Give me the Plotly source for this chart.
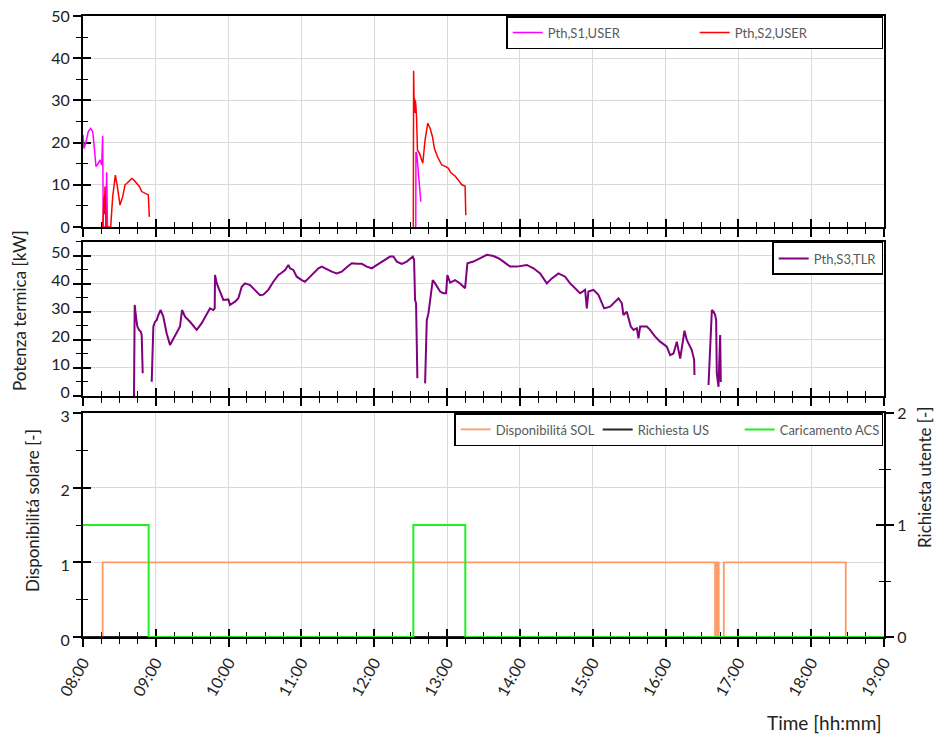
import plotly.graph_objects as go

DAY = "2021-06-21 "

# ---- Panel 1: Pth,S1,USER (magenta) and Pth,S2,USER (red) [kW]
S1_T = ["08:00:00", "08:00:50", "08:02:28", "08:04:22", "08:06:18", "08:08:00", "08:09:00",
        "08:10:43", "08:12:37", "08:14:00", "08:15:25", "08:16:12", "08:16:44", "08:18:40",
        "08:19:30", "08:20:10", None,
        "12:34:12", "12:34:20", "12:35:00", "12:36:22", "12:37:12", "12:38:20"]
S1_V = [21.8, 18.6, 20.2, 22.6, 23.4, 22.6, 19.8, 14.3, 15.1, 15.9, 14.7, 21.6, 0, 0,
        13.0, 0, None,
        0, 17.8, 17.5, 12.7, 8.8, 6.0]

S2_T = ["08:16:12", "08:17:17", "08:17:40", "08:18:07", "08:18:58", "08:21:10", "08:22:48",
        "08:24:28", "08:26:40", "08:28:19", "08:30:30", "08:32:42", "08:34:37", "08:36:00",
        "08:37:22", "08:40:08", "08:42:00", "08:44:14", "08:46:25", "08:48:22", "08:51:07",
        "08:53:49", "08:54:40", None,
        "12:32:10", "12:32:25", "12:32:50", "12:33:10", "12:33:30", "12:33:50", "12:34:20",
        "12:34:50", "12:35:34", "12:37:12", "12:39:58", "12:41:52", "12:44:05", "12:46:00",
        "12:47:56", "12:49:34", "12:52:00", "12:55:37", "12:58:55", "13:01:05", "13:03:00",
        "13:06:36", "13:09:19", "13:12:05", "13:14:50", "13:15:25"]
S2_V = [0, 7.2, 3.0, 9.6, 0, 0, 0, 7.2, 12.3, 9.6, 5.2, 7.2, 10.0, 10.3, 10.7, 11.5, 11.1,
        10.3, 9.6, 8.4, 8.0, 7.6, 2.4, None,
        0, 37.0, 29.0, 30.5, 27.0, 30.0, 28.5, 26.0, 18.2, 17.5, 15.1, 20.6, 24.6, 23.4,
        21.4, 18.6, 16.7, 14.7, 14.3, 13.9, 12.9, 12.1, 11.1, 10.0, 9.7, 2.8]

# ---- Panel 2: Pth,S3,TLR (purple) [kW]
S3_T = ["08:42:02", "08:42:36", "08:43:41", "08:44:46", "08:46:09", "08:47:32", "08:48:22",
        "08:49:12", None,
        "08:56:37", "08:57:58", "08:59:20", "09:00:43", "09:02:05", "09:04:00", "09:06:12",
        "09:08:55", "09:11:42", "09:14:28", "09:17:13", "09:19:56", "09:21:36", "09:24:04",
        "09:28:11", "09:33:42", "09:37:48", "09:41:56", "09:44:40", "09:47:24", "09:48:32",
        "09:48:47", "09:50:10", "09:52:55", "09:55:38", "09:59:45", "10:01:09", "10:05:16",
        "10:08:00", "10:10:48", "10:13:30", "10:17:38", "10:20:20", "10:25:51", "10:28:37",
        "10:32:42", "10:36:50", "10:40:59", "10:43:44", "10:46:30", "10:49:12", "10:50:35",
        "10:53:20", "10:56:06", "11:00:14", "11:02:56", "11:05:42", "11:09:50", "11:13:59",
        "11:16:44", "11:20:49", "11:24:58", "11:29:06", "11:33:11", "11:37:19", "11:41:27",
        "11:45:36", "11:49:41", "11:53:49", "11:57:58", "12:00:40", "12:04:48", "12:08:53",
        "12:13:00", "12:15:47", "12:18:32", "12:22:41", "12:26:46", "12:31:44", "12:32:49",
        "12:33:36", "12:34:26", "12:35:31", None,
        "12:41:53", "12:43:16", "12:44:38", "12:46:00", "12:48:11", "12:50:06", "12:54:14",
        "12:56:56", "12:59:10", "13:00:14", "13:02:28", "13:06:35", "13:10:43", "13:14:50",
        "13:16:45", "13:21:43", "13:27:12", "13:32:42", "13:38:11", "13:42:18", "13:46:26",
        "13:51:54", "13:57:24", "14:05:42", "14:11:11", "14:16:40", "14:22:10", "14:26:17",
        "14:31:45", "14:37:15", "14:41:22", "14:45:30", "14:49:37", "14:53:45", "14:55:07",
        "14:56:28", "15:00:36", "15:04:41", "15:09:24", "15:14:21", "15:18:29", "15:21:14",
        "15:24:00", "15:25:20", "15:28:05", "15:31:22", "15:33:36", "15:36:22", "15:37:41",
        "15:39:05", "15:44:35", "15:47:17", "15:51:25", "15:55:33", "16:01:04", "16:03:47",
        "16:06:32", "16:09:18", "16:12:04", "16:15:37", "16:17:31", "16:20:16", "16:21:38",
        "16:23:33", "16:23:50", None,
        "16:35:24", "16:38:10", "16:39:32", "16:40:52", "16:41:42", "16:42:14", "16:43:37",
        "16:45:00", "16:45:32"]
S3_V = [0, 32.5, 28.3, 24.8, 23.6, 23.0, 21.8, 8.1, None,
        5.1, 24.8, 26.5, 27.1, 28.9, 30.7, 28.3, 22.4, 18.2, 20.6, 23.0, 24.8, 30.7, 28.3,
        26.5, 23.6, 26.0, 29.5, 31.3, 30.7, 31.3, 43.2, 40.3, 37.3, 34.3, 34.5, 32.5, 33.7,
        34.9, 39.0, 40.2, 39.6, 38.5, 36.0, 36.2, 37.9, 40.8, 43.2, 44.0, 45.0, 46.8, 45.6,
        45.0, 42.6, 41.4, 40.8, 42.0, 43.8, 45.6, 46.2, 45.2, 44.4, 43.8, 44.4, 46.0, 47.4,
        47.2, 47.2, 46.2, 45.6, 46.4, 47.6, 48.6, 49.8, 49.8, 48.0, 47.2, 48.0, 49.8, 48.6,
        34.3, 33.1, 6.3, None,
        4.5, 27.1, 29.5, 34.9, 41.4, 40.2, 37.3, 36.7, 36.7, 43.2, 40.5, 41.4, 40.2, 38.5,
        47.4, 48.0, 49.2, 50.4, 50.0, 49.2, 48.0, 46.2, 46.2, 46.8, 45.6, 43.8, 40.2, 42.0,
        43.8, 42.6, 40.2, 38.5, 36.7, 37.9, 31.3, 37.3, 37.9, 36.1, 31.3, 31.9, 33.7, 34.9,
        33.1, 28.9, 30.1, 24.8, 23.6, 24.2, 20.6, 24.8, 24.8, 23.6, 21.2, 19.4, 17.6, 14.6,
        15.2, 19.4, 13.4, 23.3, 20.0, 17.6, 16.4, 12.9, 7.5, None,
        3.9, 30.7, 30.1, 28.9, 27.1, 8.1, 3.3, 21.8, 5.0]

# ---- Panel 3: signals [-]
SOL_T = ["08:00:00", "08:16:12", "16:40:48", "16:42:22", "16:43:48", "16:48:00", "18:28:30", "19:00:00"]
SOL_V = [0, 1, 0, 1, 0, 1, 0, 0]
US_T = ["08:00:00", "19:00:00"]
US_V = [0, 0]
ACS_T = ["08:00:00", "08:54:07", "12:32:13", "13:15:00", "19:00:00"]
ACS_V = [1, 0, 1, 0, 0]

X_RANGE = ["08:00", "19:00"]


def tx(ts):
    return [None if t is None else DAY + t for t in ts]


FONT = "Lato, 'Open Sans', sans-serif"
GRID = "#d9d9d9"
TC = "#222"

fig = go.Figure()
fig.add_trace(go.Scatter(x=tx(S1_T), y=S1_V, mode="lines", name="Pth,S1,USER",
                         line=dict(color="#FF00FF", width=1.5), xaxis="x", yaxis="y",
                         legend="legend"))
fig.add_trace(go.Scatter(x=tx(S2_T), y=S2_V, mode="lines", name="Pth,S2,USER",
                         line=dict(color="#FF0000", width=1.5), xaxis="x", yaxis="y",
                         legend="legend"))
fig.add_trace(go.Scatter(x=tx(S3_T), y=S3_V, mode="lines", name="Pth,S3,TLR",
                         line=dict(color="#800080", width=2), xaxis="x2", yaxis="y2",
                         legend="legend2"))
fig.add_trace(go.Scatter(x=tx(US_T), y=US_V, mode="lines", name="Richiesta US",
                         line=dict(color="#262626", width=2), xaxis="x3", yaxis="y4",
                         legend="legend3", legendrank=2))
fig.add_trace(go.Scatter(x=tx(SOL_T), y=SOL_V, mode="lines", name="Disponibilitá SOL",
                         line=dict(color="#FF9966", width=1.8, shape="hv"), xaxis="x3", yaxis="y3",
                         legend="legend3", legendrank=1))
fig.add_trace(go.Scatter(x=tx(ACS_T), y=ACS_V, mode="lines", name="Caricamento ACS",
                         line=dict(color="#22EE22", width=2, shape="hv"), xaxis="x3", yaxis="y4",
                         legend="legend3", legendrank=3))

# empty helper traces so that the inside-tick overlay axes are drawn (ticks cross the axis lines)
for xa, ya in [("x4", "y"), ("x5", "y2"), ("x6", "y3"), ("x", "y5"), ("x2", "y6"),
               ("x3", "y7"), ("x3", "y8")]:
    fig.add_trace(go.Scatter(x=[], y=[], mode="lines", xaxis=xa, yaxis=ya,
                             showlegend=False, hoverinfo="skip"))

xr = [DAY + X_RANGE[0], DAY + X_RANGE[1]]
xcommon = dict(type="date", range=xr, dtick=3600000, tickformat="%H:%M", automargin=False,
               showgrid=True, gridcolor=GRID, gridwidth=1, layer="below traces",
               showline=True, linecolor="black", linewidth=2, mirror=True,
               ticks="outside", ticklen=8, tickwidth=1.5, tickcolor="black",
               minor=dict(dtick=900000, ticks="outside", ticklen=5, tickwidth=1.3,
                          tickcolor="black", showgrid=False),
               zeroline=False)
xin = dict(type="date", range=xr, dtick=3600000, showgrid=False, showline=False,
           showticklabels=False, zeroline=False, automargin=False, layer="below traces",
           ticks="inside", ticklen=8, tickwidth=1.5, tickcolor="black",
           minor=dict(dtick=900000, ticks="inside", ticklen=5, tickwidth=1.3,
                      tickcolor="black", showgrid=False))
ycommon = dict(showgrid=True, gridcolor=GRID, gridwidth=1, automargin=False,
               showline=True, linecolor="black", linewidth=2, layer="below traces",
               ticks="outside", ticklen=8, tickwidth=1.5, tickcolor="black",
               tickfont=dict(family=FONT, size=16, color=TC),
               zeroline=False)


def yin(rng, dt, mdt, side="left"):
    return dict(range=rng, dtick=dt, tick0=0, showgrid=False, showline=False,
                showticklabels=False, zeroline=False, side=side, automargin=False,
                layer="below traces",
                ticks="inside", ticklen=8, tickwidth=1.5, tickcolor="black",
                minor=dict(dtick=mdt, ticks="inside", ticklen=5, tickwidth=1.3,
                           tickcolor="black", showgrid=False))


def ymin(dt):
    return dict(dtick=dt, ticks="outside", ticklen=5, tickwidth=1.3,
                tickcolor="black", showgrid=False)


D1 = [0.6602, 1.0]
D2 = [0.3881, 0.6361]
D3 = [0.0, 0.3607]

fig.update_layout(
    width=938, height=740,
    margin=dict(l=83, r=54, t=16, b=103, pad=0, autoexpand=False),
    paper_bgcolor="white", plot_bgcolor="white",
    font=dict(family=FONT, size=14, color=TC),
    xaxis=dict(xcommon, domain=[0, 1], anchor="y", showticklabels=False),
    xaxis2=dict(xcommon, domain=[0, 1], anchor="y2", showticklabels=False),
    xaxis3=dict(xcommon, domain=[0, 1], anchor="y3", tickangle=-60,
                tickfont=dict(family=FONT, size=16, color=TC)),
    xaxis4=dict(xin, anchor="y", overlaying="x"),
    xaxis5=dict(xin, anchor="y2", overlaying="x2"),
    xaxis6=dict(xin, anchor="y3", overlaying="x3"),
    yaxis=dict(ycommon, domain=D1, anchor="x", range=[0, 50], dtick=10, mirror=True,
               minor=ymin(5)),
    yaxis2=dict(ycommon, domain=D2, anchor="x2", range=[0, 55], tick0=0, dtick=10, mirror=True,
                minor=ymin(5), ticklabelshift=-4),
    yaxis3=dict(ycommon, domain=D3, anchor="x3", range=[0, 3], dtick=1, minor=ymin(0.5),
                ticklabelshift=3),
    yaxis4=dict(ycommon, domain=D3, anchor="x3", overlaying="y3", side="right",
                range=[0, 2], dtick=1, showgrid=False, minor=ymin(0.5)),
    yaxis5=dict(yin([0, 50], 10, 5), anchor="x", overlaying="y"),
    yaxis6=dict(yin([0, 55], 10, 5), anchor="x2", overlaying="y2"),
    yaxis7=dict(yin([0, 3], 1, 0.5), anchor="x3", overlaying="y3"),
    yaxis8=dict(yin([0, 2], 1, 0.5, "right"), anchor="x3", overlaying="y3"),
    legend=dict(orientation="h", x=0.999, y=1.0, xanchor="right", yanchor="top",
                bgcolor="white", bordercolor="black", borderwidth=1.5,
                entrywidth=142, itemwidth=30,
                font=dict(family=FONT, size=13, color="#595959")),
    legend2=dict(orientation="h", x=0.999, y=0.6361, xanchor="right", yanchor="top",
                 bgcolor="white", bordercolor="black", borderwidth=1.5, itemwidth=30,
                 font=dict(family=FONT, size=13, color="#595959")),
    legend3=dict(orientation="h", x=0.999, y=0.3607, xanchor="right", yanchor="top",
                 bgcolor="white", bordercolor="black", borderwidth=1.5,
                 entrywidth=97, itemwidth=30, traceorder="normal",
                 font=dict(family=FONT, size=13, color="#595959")),
    showlegend=True,
    annotations=[
        dict(text="Potenza termica [kW]", xref="paper", yref="paper", x=-0.0787, y=0.5266,
             textangle=-90, showarrow=False, xanchor="center", yanchor="middle",
             font=dict(family=FONT, size=17, color=TC)),
        dict(text="Disponibilitá solare [-]", xref="paper", yref="paper", x=-0.0624, y=0.2029,
             textangle=-90, showarrow=False, xanchor="center", yanchor="middle",
             font=dict(family=FONT, size=17, color=TC)),
        dict(text="Richiesta utente [-]", xref="paper", yref="paper", x=1.0512, y=0.2577,
             textangle=-90, showarrow=False, xanchor="center", yanchor="middle",
             font=dict(family=FONT, size=17, color=TC)),
        dict(text="Time [hh:mm]", xref="paper", yref="paper", x=1.0, y=-0.1369,
             showarrow=False, xanchor="right", yanchor="middle",
             font=dict(family=FONT, size=19, color=TC)),
    ],
)

fig.write_html("out.html", config={"displayModeBar": False},
               post_script="document.body.style.margin='0px';")
